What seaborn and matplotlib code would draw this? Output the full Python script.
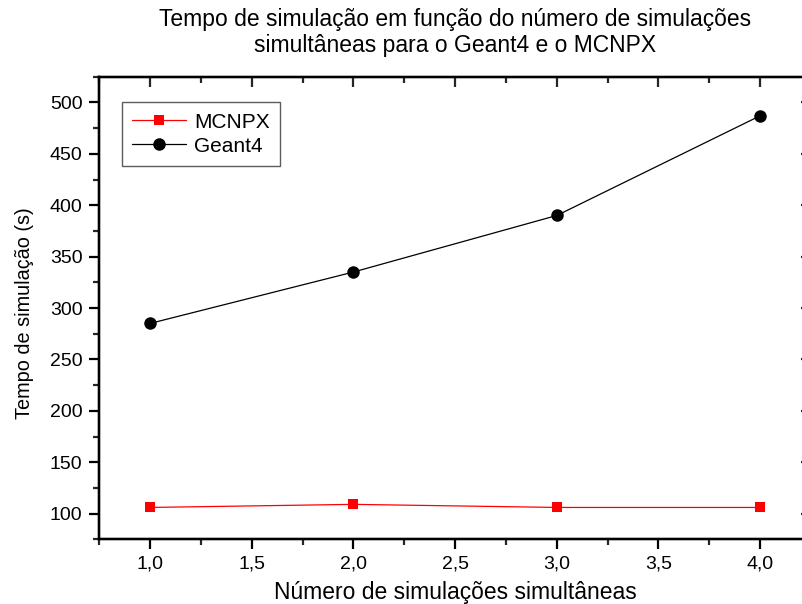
import pandas as pd
import seaborn as sns
import matplotlib.pyplot as plt
from matplotlib.ticker import MultipleLocator, FuncFormatter

# dados
n_simulacoes = [1.0, 2.0, 3.0, 4.0]
tempo_mcnpx = [106, 109, 106, 106]
tempo_geant4 = [285, 335, 390, 487]

df_mcnpx = pd.DataFrame({'n': n_simulacoes, 'tempo': tempo_mcnpx})
df_geant4 = pd.DataFrame({'n': n_simulacoes, 'tempo': tempo_geant4})

sns.set_style('ticks')
plt.rcParams['font.family'] = ['Liberation Sans', 'DejaVu Sans']
plt.rcParams['text.color'] = 'black'
plt.rcParams['axes.labelcolor'] = 'black'

fig = plt.figure(figsize=(8.02, 6.04), dpi=100)
ax = fig.add_axes([0.1237, 0.1071, 0.8875, 0.7659])

# series
sns.lineplot(data=df_mcnpx, x='n', y='tempo', ax=ax, color='#ff0000',
             marker='s', markersize=7.5, markeredgewidth=0, linewidth=0.9,
             label='MCNPX')
sns.lineplot(data=df_geant4, x='n', y='tempo', ax=ax, color='black',
             marker='o', markersize=9, markeredgewidth=0, linewidth=0.9,
             label='Geant4')

ax.set_xlim(0.75, 4.25)
ax.set_ylim(75, 525)

ax.xaxis.set_major_locator(MultipleLocator(0.5))
ax.xaxis.set_minor_locator(MultipleLocator(0.25))
ax.yaxis.set_major_locator(MultipleLocator(50))
ax.yaxis.set_minor_locator(MultipleLocator(25))
ax.xaxis.set_major_formatter(FuncFormatter(lambda v, p: f'{v:.1f}'.replace('.', ',')))

for s in ax.spines.values():
    s.set_linewidth(1.6)
    s.set_color('black')

# ticks para fora em baixo/esquerda, para dentro em cima/direita
ax.tick_params(which='major', direction='out', length=7, width=1.6,
               labelsize=14, colors='black', pad=5)
ax.tick_params(which='minor', direction='out', length=4, width=1.6)

ax2 = ax.twiny()
ax2.set_xlim(ax.get_xlim())
ax2.xaxis.set_major_locator(MultipleLocator(0.5))
ax2.xaxis.set_minor_locator(MultipleLocator(0.25))
ax2.set_xticklabels([])
ax2.tick_params(which='major', direction='in', length=7, width=1.6, labeltop=False)
ax2.tick_params(which='minor', direction='in', length=4, width=1.6)
ax3 = ax.twinx()
ax3.set_ylim(ax.get_ylim())
ax3.yaxis.set_major_locator(MultipleLocator(50))
ax3.yaxis.set_minor_locator(MultipleLocator(25))
ax3.set_yticklabels([])
ax3.tick_params(which='major', direction='in', length=7, width=1.6, labelright=False)
ax3.tick_params(which='minor', direction='in', length=4, width=1.6)
for a in (ax2, ax3):
    for s in a.spines.values():
        s.set_linewidth(1.6)
        s.set_color('black')

ax.set_xlabel('Número de simulações simultâneas', fontsize=16.5, labelpad=6)
ax.set_ylabel('Tempo de simulação (s)', fontsize=14.3, labelpad=11)
ax.yaxis.set_label_coords(-0.092, 0.49)
ax.set_title('Tempo de simulação em função do número de simulações\n'
             'simultâneas para o Geant4 e o MCNPX', fontsize=16.5, pad=18,
             linespacing=1.15, color='black')

leg = ax.legend(loc='upper left', bbox_to_anchor=(0.032, 0.945),
                borderaxespad=0, fontsize=15, frameon=True, fancybox=False,
                handlelength=2.55, handletextpad=0.4, borderpad=0.5,
                labelspacing=0.25)
leg.get_frame().set_edgecolor('#333333')
leg.get_frame().set_linewidth(1.0)

plt.savefig('out.png', dpi=100)
